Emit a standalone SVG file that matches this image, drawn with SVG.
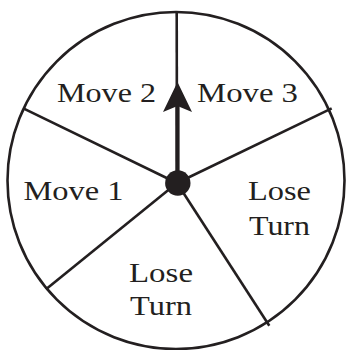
<svg xmlns="http://www.w3.org/2000/svg" width="346" height="350" viewBox="0 0 346 350">
<style>
.rim{fill:#fff;stroke:#231f20;stroke-width:2.6}
.sp{stroke:#231f20;stroke-width:2.6;fill:none;stroke-linecap:butt}
.lbl{font-family:"Liberation Serif","Times New Roman",serif;font-size:28px;fill:#231f20}
</style>
<rect width="346" height="350" fill="#fff"/>
<g id="wheel">
<circle class="rim" cx="176" cy="180.5" r="168.5"/>
</g>
<g id="connectors">
<line class="sp" x1="177" y1="183" x2="176.7" y2="12"/>
<line class="sp" x1="177" y1="183" x2="23.3" y2="108.3"/>
<line class="sp" x1="177" y1="183" x2="331.7" y2="108.3"/>
<line class="sp" x1="177" y1="183" x2="46" y2="289.3"/>
<line class="sp" x1="177" y1="183" x2="269.3" y2="325.7"/>
</g>
<g id="pointer">
<line x1="177.5" y1="183" x2="177.5" y2="105" stroke="#231f20" stroke-width="4.2"/>
<path d="M177.5 82 L192 112 L177.5 106 L163 112 Z" fill="#231f20"/>
<circle cx="177.8" cy="183" r="12.7" fill="#231f20"/>
</g>
<g id="move2"><text class="lbl" x="57" y="102" textLength="99" lengthAdjust="spacingAndGlyphs">Move 2</text></g>
<g id="move3"><text class="lbl" x="197" y="102" textLength="101" lengthAdjust="spacingAndGlyphs">Move 3</text></g>
<g id="move1"><text class="lbl" x="23.5" y="200" textLength="100" lengthAdjust="spacingAndGlyphs">Move 1</text></g>
<g id="loseturn-right">
<text class="lbl" x="248" y="200" textLength="63" lengthAdjust="spacingAndGlyphs">Lose</text>
<text class="lbl" x="249" y="235" textLength="61" lengthAdjust="spacingAndGlyphs">Turn</text>
</g>
<g id="loseturn-bottom">
<text class="lbl" x="129" y="282" textLength="64" lengthAdjust="spacingAndGlyphs">Lose</text>
<text class="lbl" x="130" y="315" textLength="62" lengthAdjust="spacingAndGlyphs">Turn</text>
</g>
</svg>
